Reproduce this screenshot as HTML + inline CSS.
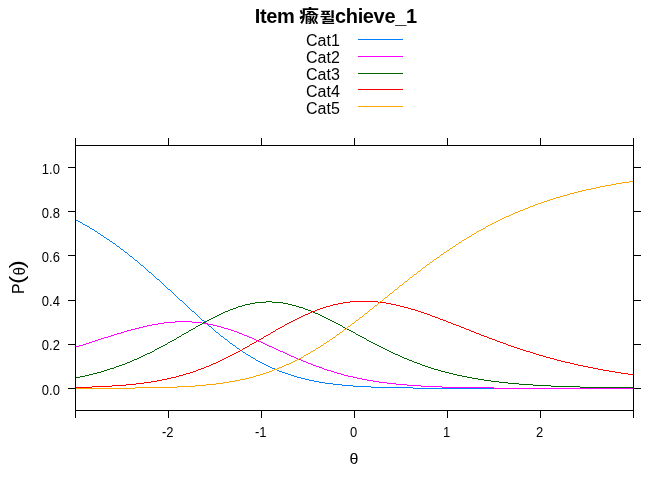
<!DOCTYPE html>
<html lang="en">
<head>
<meta charset="utf-8">
<title>Item trace plot</title>
<style>
html,body{margin:0;padding:0;background:#fff;}
body{width:672px;height:480px;overflow:hidden;}
svg{display:block;}
text{font-family:"Liberation Sans","Noto Sans CJK KR",sans-serif;fill:#000;}
.t{font-size:20px;font-weight:bold;letter-spacing:-0.35px;}
.ax text{font-size:13px;}
.lg text,.lab,.lab text{font-size:16px;}
.ln{fill:none;stroke:#000;stroke-width:1;shape-rendering:crispEdges;}
.cv path{fill:none;stroke-width:1;shape-rendering:crispEdges;}
.lg path{fill:none;stroke-width:1;shape-rendering:crispEdges;}
</style>
</head>
<body>
<svg width="672" height="480" viewBox="0 0 672 480">
<rect width="672" height="480" fill="#fff"/>
<text class="t" x="254.8" y="23" xml:space="preserve">Item</text>
<text class="t cj" transform="translate(299.2,22.3) scale(1.04,0.88)" style="font-size:19px">瘉</text>
<text class="t cj" transform="translate(319.4,21.9) scale(1.13,0.87)" style="font-size:15.5px">퓔</text>
<text class="t" x="335" y="23">chieve_1</text>
<g class="lg">
<text x="306" y="46">Cat1</text>
<path d="M358 39.5H403" stroke="#0080ff"/>
<text x="306" y="62.9">Cat2</text>
<path d="M358 56.5H403" stroke="#ff00ff"/>
<text x="306" y="79.8">Cat3</text>
<path d="M358 73.5H403" stroke="#006400"/>
<text x="306" y="96.7">Cat4</text>
<path d="M358 89.5H403" stroke="#ff0000"/>
<text x="306" y="113.6">Cat5</text>
<path d="M358 106.5H403" stroke="#ffa500"/>
</g>
<g class="cv">
<path d="M75 219.5h1M76 220.5h2M78 221.5h2M80 222.5h2M82 223.5h1M83 224.5h2M85 225.5h2M87 226.5h2M89 227.5h1M90 228.5h2M92 229.5h2M94 230.5h1M95 231.5h2M97 232.5h1M98 233.5h2M100 234.5h1M101 235.5h2M103 236.5h1M104 237.5h2M106 238.5h1M107 239.5h2M109 240.5h1M110 241.5h2M112 242.5h1M113 243.5h2M115 244.5h1M116 245.5h1M117 246.5h2M119 247.5h1M120 248.5h1M121 249.5h2M123 250.5h1M124 251.5h1M125 252.5h2M127 253.5h1M128 254.5h1M129 255.5h1M130 256.5h2M132 257.5h1M133 258.5h1M134 259.5h1M135 260.5h2M137 261.5h1M138 262.5h1M139 263.5h1M140 264.5h1M141 265.5h2M143 266.5h1M144 267.5h1M145 268.5h1M146 269.5h1M147 270.5h1M148 271.5h1M149 272.5h2M151 273.5h1M152 274.5h1M153 275.5h1M154 276.5h1M155 277.5h1M156 278.5h1M157 279.5h2M159 280.5h1M160 281.5h1M161 282.5h1M162 283.5h1M163 284.5h1M164 285.5h1M165 286.5h1M166 287.5h1M167 288.5h1M168 289.5h2M170 290.5h1M171 291.5h1M172 292.5h1M173 293.5h1M174 294.5h1M175 295.5h1M176 296.5h1M177 297.5h1M178 298.5h1M179 299.5h1M180 300.5h2M182 301.5h1M183 302.5h1M184 303.5h1M185 304.5h1M186 305.5h1M187 306.5h1M188 307.5h1M189 308.5h1M190 309.5h1M191 310.5h1M192 311.5h2M194 312.5h1M195 313.5h1M196 314.5h1M197 315.5h1M198 316.5h1M199 317.5h1M200 318.5h1M201 319.5h1M202 320.5h2M204 321.5h1M205 322.5h1M206 323.5h1M207 324.5h1M208 325.5h1M209 326.5h2M211 327.5h1M212 328.5h1M213 329.5h1M214 330.5h1M215 331.5h1M216 332.5h2M218 333.5h1M219 334.5h1M220 335.5h1M221 336.5h2M223 337.5h1M224 338.5h1M225 339.5h2M227 340.5h1M228 341.5h1M229 342.5h1M230 343.5h2M232 344.5h1M233 345.5h2M235 346.5h1M236 347.5h1M237 348.5h2M239 349.5h1M240 350.5h2M242 351.5h1M243 352.5h2M245 353.5h1M246 354.5h2M248 355.5h2M250 356.5h1M251 357.5h2M253 358.5h2M255 359.5h1M256 360.5h2M258 361.5h2M260 362.5h2M262 363.5h2M264 364.5h2M266 365.5h2M268 366.5h2M270 367.5h2M272 368.5h3M275 369.5h2M277 370.5h2M279 371.5h3M282 372.5h3M285 373.5h3M288 374.5h3M291 375.5h3M294 376.5h3M297 377.5h4M301 378.5h4M305 379.5h4M309 380.5h5M314 381.5h5M319 382.5h6M325 383.5h8M333 384.5h9M342 385.5h11M353 386.5h18M371 387.5h42M413 388.5h221" stroke="#0080ff"/>
<path d="M75 347.5h1M76 346.5h3M79 345.5h4M83 344.5h3M86 343.5h3M89 342.5h3M92 341.5h3M95 340.5h3M98 339.5h3M101 338.5h3M104 337.5h4M108 336.5h3M111 335.5h3M114 334.5h3M117 333.5h4M121 332.5h3M124 331.5h3M127 330.5h4M131 329.5h4M135 328.5h4M139 327.5h4M143 326.5h4M147 325.5h5M152 324.5h6M158 323.5h6M164 322.5h11M175 321.5h17M192 322.5h10M202 323.5h6M208 324.5h5M213 325.5h4M217 326.5h4M221 327.5h3M224 328.5h4M228 329.5h3M231 330.5h3M234 331.5h3M237 332.5h2M239 333.5h3M242 334.5h2M244 335.5h3M247 336.5h2M249 337.5h3M252 338.5h2M254 339.5h2M256 340.5h2M258 341.5h3M261 342.5h2M263 343.5h2M265 344.5h2M267 345.5h2M269 346.5h3M272 347.5h2M274 348.5h2M276 349.5h2M278 350.5h2M280 351.5h3M283 352.5h2M285 353.5h2M287 354.5h2M289 355.5h2M291 356.5h3M294 357.5h2M296 358.5h2M298 359.5h3M301 360.5h2M303 361.5h3M306 362.5h2M308 363.5h3M311 364.5h2M313 365.5h3M316 366.5h3M319 367.5h3M322 368.5h2M324 369.5h3M327 370.5h4M331 371.5h3M334 372.5h3M337 373.5h4M341 374.5h3M344 375.5h4M348 376.5h5M353 377.5h4M357 378.5h5M362 379.5h5M367 380.5h6M373 381.5h6M379 382.5h8M387 383.5h9M396 384.5h11M407 385.5h14M421 386.5h21M442 387.5h52M494 388.5h140" stroke="#ff00ff"/>
<path d="M75 377.5h5M80 376.5h5M85 375.5h4M89 374.5h4M93 373.5h4M97 372.5h4M101 371.5h3M104 370.5h3M107 369.5h3M110 368.5h4M114 367.5h2M116 366.5h3M119 365.5h3M122 364.5h3M125 363.5h2M127 362.5h3M130 361.5h2M132 360.5h2M134 359.5h3M137 358.5h2M139 357.5h2M141 356.5h2M143 355.5h2M145 354.5h2M147 353.5h3M150 352.5h2M152 351.5h2M154 350.5h1M155 349.5h2M157 348.5h2M159 347.5h2M161 346.5h2M163 345.5h2M165 344.5h2M167 343.5h1M168 342.5h2M170 341.5h2M172 340.5h2M174 339.5h2M176 338.5h1M177 337.5h2M179 336.5h2M181 335.5h1M182 334.5h2M184 333.5h2M186 332.5h2M188 331.5h1M189 330.5h2M191 329.5h2M193 328.5h2M195 327.5h1M196 326.5h2M198 325.5h2M200 324.5h2M202 323.5h1M203 322.5h2M205 321.5h2M207 320.5h2M209 319.5h2M211 318.5h2M213 317.5h2M215 316.5h2M217 315.5h2M219 314.5h2M221 313.5h2M223 312.5h2M225 311.5h3M228 310.5h2M230 309.5h3M233 308.5h3M236 307.5h2M238 306.5h4M242 305.5h3M245 304.5h5M250 303.5h5M255 302.5h11M266 301.5h6M272 302.5h11M283 303.5h5M288 304.5h4M292 305.5h4M296 306.5h3M299 307.5h4M303 308.5h2M305 309.5h3M308 310.5h3M311 311.5h2M313 312.5h2M315 313.5h3M318 314.5h2M320 315.5h2M322 316.5h2M324 317.5h2M326 318.5h2M328 319.5h2M330 320.5h2M332 321.5h2M334 322.5h2M336 323.5h2M338 324.5h2M340 325.5h2M342 326.5h1M343 327.5h2M345 328.5h2M347 329.5h2M349 330.5h2M351 331.5h2M353 332.5h2M355 333.5h1M356 334.5h2M358 335.5h2M360 336.5h2M362 337.5h2M364 338.5h2M366 339.5h1M367 340.5h2M369 341.5h2M371 342.5h2M373 343.5h2M375 344.5h2M377 345.5h2M379 346.5h2M381 347.5h2M383 348.5h2M385 349.5h2M387 350.5h2M389 351.5h2M391 352.5h2M393 353.5h2M395 354.5h3M398 355.5h2M400 356.5h2M402 357.5h2M404 358.5h3M407 359.5h2M409 360.5h3M412 361.5h2M414 362.5h3M417 363.5h3M420 364.5h2M422 365.5h3M425 366.5h3M428 367.5h3M431 368.5h3M434 369.5h4M438 370.5h3M441 371.5h4M445 372.5h4M449 373.5h4M453 374.5h4M457 375.5h5M462 376.5h5M467 377.5h5M472 378.5h6M478 379.5h6M484 380.5h7M491 381.5h8M499 382.5h9M508 383.5h11M519 384.5h14M533 385.5h18M551 386.5h29M580 387.5h54" stroke="#006400"/>
<path d="M75 387.5h17M92 386.5h20M112 385.5h14M126 384.5h10M136 383.5h8M144 382.5h7M151 381.5h6M157 380.5h5M162 379.5h5M167 378.5h4M171 377.5h5M176 376.5h3M179 375.5h4M183 374.5h3M186 373.5h4M190 372.5h3M193 371.5h3M196 370.5h2M198 369.5h3M201 368.5h3M204 367.5h2M206 366.5h3M209 365.5h2M211 364.5h2M213 363.5h3M216 362.5h2M218 361.5h2M220 360.5h2M222 359.5h2M224 358.5h2M226 357.5h2M228 356.5h2M230 355.5h2M232 354.5h2M234 353.5h2M236 352.5h2M238 351.5h2M240 350.5h2M242 349.5h1M243 348.5h2M245 347.5h2M247 346.5h2M249 345.5h1M250 344.5h2M252 343.5h2M254 342.5h2M256 341.5h1M257 340.5h2M259 339.5h2M261 338.5h2M263 337.5h1M264 336.5h2M266 335.5h2M268 334.5h2M270 333.5h1M271 332.5h2M273 331.5h2M275 330.5h1M276 329.5h2M278 328.5h2M280 327.5h2M282 326.5h2M284 325.5h1M285 324.5h2M287 323.5h2M289 322.5h2M291 321.5h2M293 320.5h2M295 319.5h2M297 318.5h2M299 317.5h2M301 316.5h2M303 315.5h2M305 314.5h3M308 313.5h2M310 312.5h2M312 311.5h3M315 310.5h2M317 309.5h3M320 308.5h3M323 307.5h3M326 306.5h4M330 305.5h3M333 304.5h5M338 303.5h5M343 302.5h7M350 301.5h28M378 302.5h8M386 303.5h5M391 304.5h5M396 305.5h4M400 306.5h4M404 307.5h4M408 308.5h3M411 309.5h4M415 310.5h3M418 311.5h3M421 312.5h3M424 313.5h3M427 314.5h3M430 315.5h2M432 316.5h3M435 317.5h3M438 318.5h2M440 319.5h3M443 320.5h3M446 321.5h2M448 322.5h3M451 323.5h2M453 324.5h3M456 325.5h3M459 326.5h2M461 327.5h3M464 328.5h2M466 329.5h3M469 330.5h2M471 331.5h3M474 332.5h2M476 333.5h3M479 334.5h2M481 335.5h3M484 336.5h3M487 337.5h2M489 338.5h3M492 339.5h3M495 340.5h2M497 341.5h3M500 342.5h3M503 343.5h3M506 344.5h2M508 345.5h3M511 346.5h3M514 347.5h3M517 348.5h3M520 349.5h3M523 350.5h3M526 351.5h4M530 352.5h3M533 353.5h3M536 354.5h3M539 355.5h4M543 356.5h3M546 357.5h4M550 358.5h4M554 359.5h3M557 360.5h4M561 361.5h4M565 362.5h5M570 363.5h4M574 364.5h4M578 365.5h5M583 366.5h5M588 367.5h5M593 368.5h5M598 369.5h5M603 370.5h6M609 371.5h6M615 372.5h6M621 373.5h7M628 374.5h6" stroke="#ff0000"/>
<path d="M75 388.5h60M135 387.5h42M177 386.5h18M195 385.5h11M206 384.5h10M216 383.5h7M223 382.5h6M229 381.5h6M235 380.5h5M240 379.5h5M245 378.5h4M249 377.5h4M253 376.5h3M256 375.5h4M260 374.5h3M263 373.5h3M266 372.5h3M269 371.5h3M272 370.5h2M274 369.5h3M277 368.5h2M279 367.5h3M282 366.5h2M284 365.5h2M286 364.5h3M289 363.5h2M291 362.5h2M293 361.5h2M295 360.5h2M297 359.5h2M299 358.5h2M301 357.5h2M303 356.5h1M304 355.5h2M306 354.5h2M308 353.5h2M310 352.5h1M311 351.5h2M313 350.5h2M315 349.5h1M316 348.5h2M318 347.5h2M320 346.5h1M321 345.5h2M323 344.5h1M324 343.5h2M326 342.5h1M327 341.5h2M329 340.5h1M330 339.5h2M332 338.5h1M333 337.5h2M335 336.5h1M336 335.5h1M337 334.5h2M339 333.5h1M340 332.5h2M342 331.5h1M343 330.5h1M344 329.5h2M346 328.5h1M347 327.5h1M348 326.5h2M350 325.5h1M351 324.5h1M352 323.5h2M354 322.5h1M355 321.5h1M356 320.5h2M358 319.5h1M359 318.5h1M360 317.5h2M362 316.5h1M363 315.5h1M364 314.5h1M365 313.5h2M367 312.5h1M368 311.5h1M369 310.5h1M370 309.5h2M372 308.5h1M373 307.5h1M374 306.5h1M375 305.5h2M377 304.5h1M378 303.5h1M379 302.5h1M380 301.5h2M382 300.5h1M383 299.5h1M384 298.5h1M385 297.5h2M387 296.5h1M388 295.5h1M389 294.5h1M390 293.5h2M392 292.5h1M393 291.5h1M394 290.5h1M395 289.5h2M397 288.5h1M398 287.5h1M399 286.5h1M400 285.5h2M402 284.5h1M403 283.5h1M404 282.5h1M405 281.5h2M407 280.5h1M408 279.5h1M409 278.5h1M410 277.5h2M412 276.5h1M413 275.5h1M414 274.5h2M416 273.5h1M417 272.5h1M418 271.5h2M420 270.5h1M421 269.5h1M422 268.5h1M423 267.5h2M425 266.5h1M426 265.5h1M427 264.5h2M429 263.5h1M430 262.5h2M432 261.5h1M433 260.5h1M434 259.5h2M436 258.5h1M437 257.5h2M439 256.5h1M440 255.5h1M441 254.5h2M443 253.5h1M444 252.5h2M446 251.5h1M447 250.5h2M449 249.5h1M450 248.5h2M452 247.5h1M453 246.5h2M455 245.5h1M456 244.5h2M458 243.5h1M459 242.5h2M461 241.5h1M462 240.5h2M464 239.5h2M466 238.5h1M467 237.5h2M469 236.5h2M471 235.5h1M472 234.5h2M474 233.5h2M476 232.5h1M477 231.5h2M479 230.5h2M481 229.5h2M483 228.5h2M485 227.5h1M486 226.5h2M488 225.5h2M490 224.5h2M492 223.5h2M494 222.5h2M496 221.5h2M498 220.5h2M500 219.5h2M502 218.5h2M504 217.5h2M506 216.5h3M509 215.5h2M511 214.5h2M513 213.5h2M515 212.5h3M518 211.5h2M520 210.5h3M523 209.5h2M525 208.5h3M528 207.5h2M530 206.5h3M533 205.5h2M535 204.5h3M538 203.5h3M541 202.5h3M544 201.5h3M547 200.5h3M550 199.5h3M553 198.5h3M556 197.5h4M560 196.5h3M563 195.5h4M567 194.5h3M570 193.5h4M574 192.5h4M578 191.5h4M582 190.5h4M586 189.5h5M591 188.5h5M596 187.5h4M600 186.5h5M605 185.5h6M611 184.5h5M616 183.5h6M622 182.5h7M629 181.5h5" stroke="#ffa500"/>
</g>
<g class="ln">
<rect x="75.5" y="145.5" width="558" height="265"/>
<path d="M168.5 410.5V418 M168.5 145.5V138 M261.5 410.5V418 M261.5 145.5V138 M354.5 410.5V418 M354.5 145.5V138 M447.5 410.5V418 M447.5 145.5V138 M540.5 410.5V418 M540.5 145.5V138 M75.5 410.5V418 M75.5 145.5V138 M633.5 410.5V418 M633.5 145.5V138 M75.5 388.5H68 M633.5 388.5H641 M75.5 344.5H68 M633.5 344.5H641 M75.5 300.5H68 M633.5 300.5H641 M75.5 255.5H68 M633.5 255.5H641 M75.5 211.5H68 M633.5 211.5H641 M75.5 167.5H68 M633.5 167.5H641"/>
</g>
<g class="ax">
<text transform="translate(167.7,437) scale(1,1.09)" text-anchor="middle">-2</text>
<text transform="translate(260.7,437) scale(1,1.09)" text-anchor="middle">-1</text>
<text transform="translate(353.7,437) scale(1,1.09)" text-anchor="middle">0</text>
<text transform="translate(446.7,437) scale(1,1.09)" text-anchor="middle">1</text>
<text transform="translate(539.7,437) scale(1,1.09)" text-anchor="middle">2</text>
<text transform="translate(59.9,394.5) scale(1,1.09)" text-anchor="end">0.0</text>
<text transform="translate(59.9,350.3) scale(1,1.09)" text-anchor="end">0.2</text>
<text transform="translate(59.9,306.1) scale(1,1.09)" text-anchor="end">0.4</text>
<text transform="translate(59.9,261.9) scale(1,1.09)" text-anchor="end">0.6</text>
<text transform="translate(59.9,217.7) scale(1,1.09)" text-anchor="end">0.8</text>
<text transform="translate(59.9,173.5) scale(1,1.09)" text-anchor="end">1.0</text>
</g>
<text class="lab" transform="translate(354,464.2) scale(1,0.93)" text-anchor="middle">θ</text>
<g class="lab">
<text transform="translate(24,293.9) rotate(-90)">P</text>
<text transform="translate(24,284.1) rotate(-90) scale(1.25,1)" style="font-size:20px">(</text>
<text transform="translate(24.8,275.2) rotate(-90) scale(0.92,1.03)">θ</text>
<text transform="translate(24,268.6) rotate(-90) scale(1.25,1)" style="font-size:20px">)</text>
</g>
</svg>
</body>
</html>
